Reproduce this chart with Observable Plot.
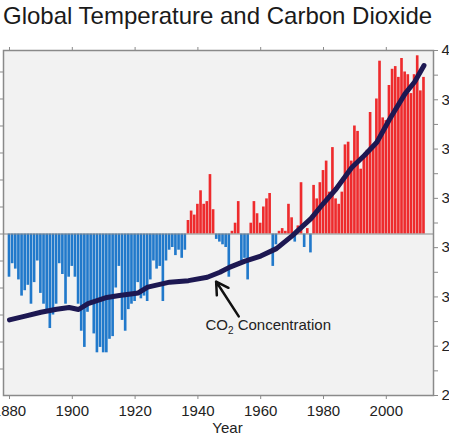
<!DOCTYPE html>
<html><head><meta charset="utf-8">
<script src="https://cdn.jsdelivr.net/npm/d3@7"></script>
<script src="https://cdn.jsdelivr.net/npm/@observablehq/plot@0.6"></script>
<style>
html,body{margin:0;padding:0;background:#fff;overflow:hidden;width:449px;height:448px;}
#title{position:absolute;left:3px;top:4px;font-family:"Liberation Sans",Arial,sans-serif;font-size:24px;line-height:24px;color:#1a1a1a;white-space:nowrap;}
#chart{position:absolute;left:-57px;top:0;width:546px;height:448px;}
#chart svg{max-width:none !important;width:546px;height:448px;}
</style></head><body>
<div id="title">Global Temperature and Carbon Dioxide</div>
<div id="chart"></div>
<script>
// ---- data ----
const firstYear = 1880;
// temperature anomaly (°C), one value per year 1880..2012
const anomalies = [
 -0.16,-0.11,-0.13,-0.17,-0.23,-0.21,-0.19,-0.26,-0.18,-0.10,
 -0.22,-0.26,-0.29,-0.35,-0.30,-0.26,-0.11,-0.15,-0.26,-0.16,
 -0.12,-0.16,-0.26,-0.36,-0.42,-0.29,-0.25,-0.37,-0.44,-0.42,
 -0.44,-0.44,-0.39,-0.38,-0.20,-0.12,-0.32,-0.36,-0.28,-0.26,
 -0.25,-0.18,-0.24,-0.23,-0.25,-0.17,-0.10,-0.13,-0.12,-0.25,
 -0.10,-0.06,-0.05,-0.08,-0.06,-0.09,-0.06,0.05,0.085,0.07,
 0.11,0.16,0.11,0.12,0.22,0.09,-0.02,-0.03,-0.04,-0.05,
 -0.16,0.01,0.04,0.12,-0.10,-0.09,-0.17,0.04,0.12,0.075,
 0.04,0.10,0.13,0.15,-0.12,-0.04,0.01,0.02,0.01,0.11,
 0.06,-0.03,0.03,0.19,-0.05,0.02,-0.07,0.18,0.13,0.19,
 0.235,0.27,0.155,0.32,0.13,0.11,0.155,0.33,0.34,0.27,
 0.40,0.38,0.24,0.28,0.31,0.45,0.33,0.50,0.64,0.43,
 0.42,0.55,0.61,0.62,0.58,0.65,0.60,0.59,0.52,0.59,
 0.66,0.53,0.58
];
// CO2 concentration (ppm)
const co2Years  = [1880,1885,1890,1895,1899,1902,1905,1911,1915,1921,1924,1931,1937,1943,1947,1950,1955,1960,1965,1970,1976,1980,1984,1989,1993,1997,2001,2006,2009,2012];
const co2Values = [290.7,292.2,293.8,295.0,295.7,294.9,297.3,299.8,300.6,301.6,304.0,306.0,306.6,308.0,310.0,312.0,314.5,316.6,319.6,324.8,331.8,338.0,343.8,352.5,357.4,362.8,372.0,382.5,387.2,393.9];
const xTicks = [1880,1900,1920,1940,1960,1980,2000];
const leftTicks = [-0.5,-0.4,-0.3,-0.2,-0.1,0,0.1,0.2,0.3,0.4,0.5,0.6];
const ppmMajor = [260,280,300,320,340,360,380,400];
const ppmMinor = [270,290,310,330,350,370,390];
const annotationText = ["CO\u2082 Concentration"];
const annotationPos = {year: 1942.4, value: -0.338};
const arrowPos = {x1: 1953.0, y1: -0.305, x2: 1945.8, y2: -0.176};

// ---- build ----
const RED = "#ee2b2d", BLUE = "#2179cb", LINE = "#1d1852", FRAME = "#8a8a8a";
const tDomain = [-0.5981, 0.6796];
const co2ToT = d3.scaleLinear().domain([260, 400]).range(tDomain);
const temps = anomalies.map((a, i) => ({year: firstYear + i, anomaly: a}));
const co2 = co2Years.map((y, i) => ({year: y, ppm: co2Values[i]}));

const chart = Plot.plot({
  width: 546, height: 448,
  marginLeft: 60, marginRight: 56, marginTop: 50, marginBottom: 53,
  x: {domain: [1878.09, 2015.03]},
  y: {domain: tDomain},
  style: {fontFamily: "'Liberation Sans', Arial, sans-serif", fontSize: "15px", color: "#222", background: "transparent"},
  marks: [
    Plot.frame({fill: "#f2f2f2", stroke: null}),
    Plot.rectY(temps, {x1: d => d.year - 0.5, x2: d => d.year + 0.5, y1: 0, y2: "anomaly",
      fill: d => d.anomaly >= 0 ? RED : BLUE, insetLeft: 0.25, insetRight: 0.25}),
    Plot.ruleY([0], {stroke: FRAME, strokeWidth: 1}),
    Plot.line(co2, {x: "year", y: d => co2ToT(d.ppm), stroke: LINE, strokeWidth: 5,
      strokeLinejoin: "round", strokeLinecap: "round"}),
    Plot.arrow([arrowPos], {x1: "x1", y1: "y1", x2: "x2", y2: "y2", stroke: "#111",
      strokeWidth: 2.5, headLength: 10, headAngle: 60}),
    Plot.text(annotationText, {x: annotationPos.year, y: annotationPos.value, text: d => d,
      textAnchor: "start", fontSize: 15, fill: "#222"}),
    Plot.frame({stroke: FRAME, strokeWidth: 1.5}),
    Plot.axisX({anchor: "bottom", ticks: xTicks, tickSize: 4, tickPadding: 6,
      tickFormat: d => String(d), label: null, stroke: FRAME, fill: "#222", fontSize: 15}),
    Plot.axisX({anchor: "top", ticks: xTicks, tickSize: 4, tickFormat: () => "", label: null, stroke: FRAME}),
    Plot.axisY({anchor: "left", ticks: leftTicks, tickSize: 3, tickFormat: () => "", label: null, stroke: FRAME}),
    Plot.axisY({anchor: "right", ticks: ppmMinor.map(co2ToT), tickSize: 4, tickFormat: () => "", label: null, stroke: FRAME}),
    Plot.axisY({anchor: "right", ticks: ppmMajor.map(co2ToT), tickSize: 4, tickPadding: 4,
      tickFormat: d => String(Math.round(co2ToT.invert(d))), label: null, stroke: FRAME, fill: "#222", fontSize: 15}),
    Plot.text(["Year"], {frameAnchor: "bottom", dy: 37, dx: 9, fontSize: 15, fill: "#222"})
  ]
});
document.getElementById("chart").appendChild(chart);

// subscript for CO2
chart.querySelectorAll("text").forEach(t => {
  if (t.textContent === annotationText[0]) {
    t.textContent = "";
    const ns = "http://www.w3.org/2000/svg";
    const a = document.createElementNS(ns, "tspan"); a.textContent = "CO";
    const b = document.createElementNS(ns, "tspan"); b.textContent = "2";
    b.setAttribute("font-size", "10"); b.setAttribute("dy", "4");
    const c = document.createElementNS(ns, "tspan"); c.textContent = " Concentration";
    c.setAttribute("dy", "-4");
    t.append(a, b, c);
  }
});
</script>
</body></html>
